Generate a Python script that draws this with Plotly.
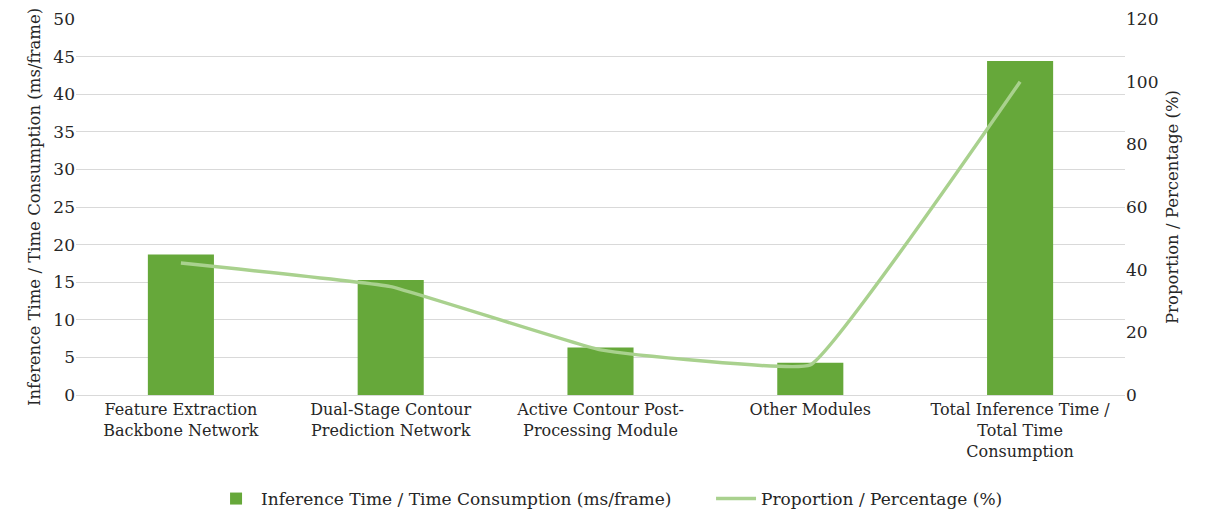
import plotly.graph_objects as go

categories = [
    "Feature Extraction<br>Backbone Network",
    "Dual-Stage Contour<br>Prediction Network",
    "Active Contour Post-<br>Processing Module",
    "Other Modules",
    "Total Inference Time /<br>Total Time<br>Consumption",
]
inference_time = [18.7, 15.3, 6.3, 4.3, 44.4]
proportion = [42.1, 34.6, 14.4, 9.6, 100.0]

bar_name = "Inference Time / Time Consumption (ms/frame)"
line_name = "Proportion / Percentage (%)"

FONT = "DejaVu Serif"
TXT = "#262626"

fig = go.Figure()
fig.add_trace(go.Bar(
    x=categories, y=inference_time, name=bar_name,
    marker=dict(color="#66A83A", line=dict(width=0)),
    width=0.315, yaxis="y",
))
fig.add_trace(go.Scatter(
    x=categories, y=proportion, name=line_name, mode="lines",
    line=dict(color="#A9D18E", width=3.5, shape="spline", smoothing=0.25),
    yaxis="y2",
))

fig.update_layout(
    width=1206, height=517,
    margin=dict(l=76, r=81, t=19, b=122, autoexpand=False),
    paper_bgcolor="white", plot_bgcolor="white",
    font=dict(family=FONT, size=16, color=TXT),
    showlegend=True,
    legend=dict(orientation="h", x=0.175, xanchor="left", xref="container",
                y=0.0, yanchor="bottom", yref="container",
                font=dict(family=FONT, size=17, color=TXT),
                itemwidth=40, entrywidth=445, traceorder="normal"),
    xaxis=dict(showgrid=False, showline=True, linecolor="#D9D9D9", linewidth=1,
               ticks="", tickfont=dict(family=FONT, size=16, color=TXT)),
    yaxis=dict(range=[0, 50], dtick=5, showgrid=True, gridcolor="#D9D9D9", gridwidth=1,
               zeroline=False, showline=False, ticks="",
               tickfont=dict(family=FONT, size=17, color=TXT),
               title=dict(text="Inference Time / Time Consumption (ms/frame)",
                          font=dict(family=FONT, size=16.5, color=TXT), standoff=8)),
    yaxis2=dict(range=[0, 120], dtick=20, overlaying="y", side="right", showgrid=False,
                zeroline=False, showline=False, ticks="",
                tickfont=dict(family=FONT, size=17, color=TXT),
                title=dict(text="Proportion / Percentage (%)",
                           font=dict(family=FONT, size=16.5, color=TXT), standoff=8)),
)

fig.write_html("out.html")
